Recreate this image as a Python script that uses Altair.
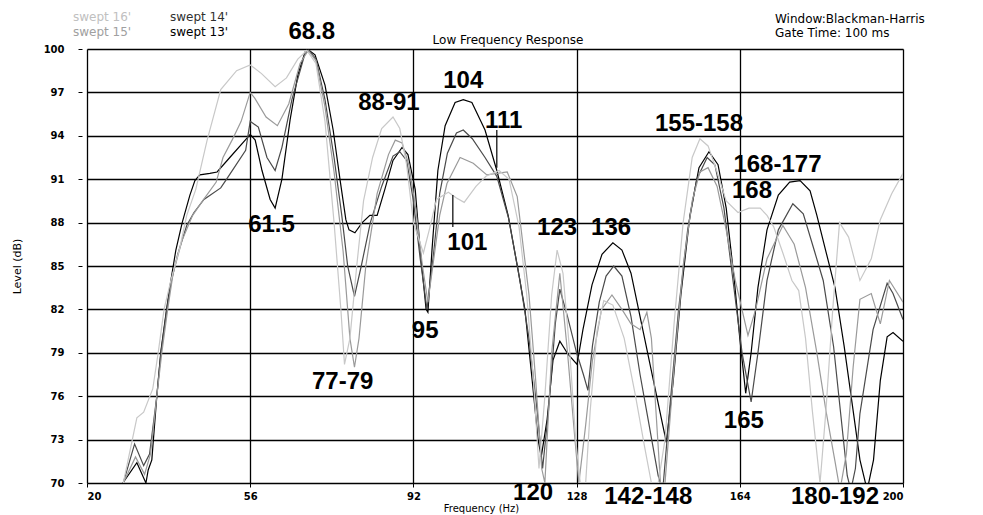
import altair as alt
import pandas as pd

# ---- data (frequency in Hz, level in dB) ----
f13 = [27.9,31.0,33.0,33.5,34.3,35.4,36.3,37.6,38.5,39.6,41.0,42.7,43.8,44.9,47.1,48.7,51.5,54.9,56.0,57.1,58.6,60.4,61.5,63.0,64.8,66.5,68.1,69.0,70.3,72.5,74.3,75.8,77.1,77.8,79.1,80.7,82.4,84.0,85.7,87.5,89.5,90.8,92.4,93.5,94.8,95.2,96.1,97.4,99.0,101.2,103.0,104.9,107.8,110.4,112.9,115.1,116.6,118.2,119.5,120.2,121.5,122.8,124.3,126.1,128.1,129.4,131.4,133.6,136.0,138.0,140.0,142.0,144.0,146.0,147.8,149.3,151.0,153.0,155.0,157.2,159.2,161.0,162.8,164.0,165.3,166.5,168.0,170.0,172.5,175.0,177.3,179.5,181.0,183.0,185.0,187.0,189.0,190.5,192.1,193.5,195.0,196.5,197.8,200.0]
l13 = [70.0,71.4,70.0,70.9,71.6,76.0,79.1,82.1,84.0,86.1,88.0,89.9,90.9,91.3,91.4,91.5,92.5,93.7,94.1,93.7,91.6,89.6,89.0,91.0,95.1,98.2,99.8,99.9,99.6,97.5,94.4,91.0,88.2,87.5,87.3,88.0,88.5,88.5,90.3,92.3,93.2,92.7,90.3,86.1,82.0,81.8,86.1,91.6,94.7,96.3,96.5,96.3,94.4,91.6,88.5,84.7,82.0,77.1,73.0,71.8,74.4,78.5,79.8,78.9,78.2,80.6,83.7,85.8,86.6,86.1,84.5,81.5,78.5,75.5,72.8,77.0,83.0,88.5,91.8,92.9,92.0,89.0,84.0,80.0,76.2,79.0,83.5,87.5,89.9,90.8,90.9,90.2,88.5,86.0,83.5,79.5,75.0,71.6,69.5,71.6,77.1,80.1,80.4,79.8]

f14 = [28.0,30.5,32.5,33.8,35.4,36.3,37.6,38.5,40.0,42.0,43.6,45.8,49.5,50.8,55.0,56.0,57.8,59.7,61.5,63.0,65.2,68.1,69.0,70.5,72.5,74.5,76.2,77.5,79.0,80.5,82.5,85.0,87.5,89.0,90.5,92.0,93.5,95.0,96.5,97.8,99.5,101.5,103.0,105.0,107.8,110.4,113.0,115.5,117.5,119.3,120.5,121.8,123.3,124.3,126.0,128.0,129.5,130.5,131.5,133.0,134.5,136.2,138.0,140.0,142.0,144.0,146.0,147.0,148.5,150.5,152.5,154.5,156.8,158.5,160.5,162.5,164.5,166.5,168.0,170.0,172.5,175.7,178.0,180.5,182.4,184.7,187.7,188.5,189.5,190.5,193.4,196.5,197.8,200.0]
l14 = [70.0,72.7,71.2,72.0,76.0,79.0,82.0,83.8,85.8,87.8,88.7,89.6,90.4,91.0,93.0,95.0,94.6,92.5,91.6,93.2,96.5,99.7,99.9,99.3,96.5,92.5,88.5,85.0,82.9,85.0,88.0,90.5,92.6,92.9,92.3,89.5,85.5,82.0,86.0,90.0,92.8,94.2,94.4,93.8,92.5,91.2,88.3,84.0,80.0,75.0,71.0,75.0,81.0,83.4,81.5,79.0,77.5,76.4,79.5,82.5,84.3,85.0,84.3,81.5,77.5,74.0,70.5,69.5,75.0,82.0,87.5,91.0,92.5,92.0,89.0,84.0,79.0,75.6,79.0,84.0,87.5,89.3,88.6,86.0,84.0,79.4,70.5,69.5,71.0,74.8,80.6,83.8,83.1,81.3]

f15 = [28.0,30.7,32.7,34.0,35.4,36.5,37.8,39.0,41.0,43.3,45.5,48.5,50.0,52.0,54.0,56.0,57.0,59.5,62.0,64.5,67.0,68.8,70.5,72.5,74.5,76.5,78.0,79.0,80.0,81.5,84.0,86.5,88.0,89.5,91.0,92.5,94.0,95.2,96.5,97.8,99.4,102.3,105.2,108.2,110.4,112.7,114.9,117.5,119.0,120.3,121.0,122.5,124.3,126.0,127.5,128.5,130.0,131.5,133.5,135.8,138.0,140.0,142.0,143.5,144.5,145.5,146.5,147.5,149.5,151.5,153.5,155.2,157.0,159.0,161.0,163.0,165.8,167.5,170.0,173.5,176.0,178.5,181.0,183.0,185.0,186.1,187.5,189.0,190.5,193.0,195.0,197.0,200.0]
l15 = [70.0,71.8,70.6,72.0,76.0,79.0,82.0,84.5,86.8,88.5,89.5,90.8,92.5,93.7,95.0,97.0,96.6,95.3,94.7,96.2,99.0,99.9,99.2,96.0,91.5,86.0,80.0,78.0,80.0,85.0,90.0,92.7,93.7,93.5,92.0,89.0,85.0,82.5,85.5,88.5,90.7,92.5,92.1,91.3,91.4,91.5,89.8,83.0,77.0,71.0,70.0,79.0,84.5,79.0,73.5,70.0,74.0,78.5,82.0,83.0,82.0,81.0,80.6,81.8,80.0,75.0,70.0,70.0,78.0,85.0,89.5,91.5,91.8,90.5,87.5,84.0,80.2,82.0,85.5,87.8,86.5,83.5,79.0,75.0,71.5,69.5,72.0,78.0,82.7,83.1,81.0,84.0,82.5]

f16 = [28.0,31.0,32.5,34.5,35.7,37.0,38.5,40.5,42.0,44.0,46.5,49.5,53.0,56.0,58.5,61.5,64.0,66.5,68.5,70.5,72.5,74.5,76.0,76.8,78.0,79.5,81.0,83.0,85.0,87.5,89.0,90.5,92.0,94.2,95.5,97.1,99.7,101.5,103.2,105.8,108.0,110.9,113.1,115.3,117.0,118.5,119.7,121.0,122.5,123.7,125.0,126.5,127.8,128.8,130.0,131.0,132.5,134.0,136.0,138.5,141.0,143.0,144.5,146.0,147.5,149.5,151.5,153.5,155.2,157.0,159.0,161.0,163.6,166.0,168.5,170.0,171.5,173.5,175.5,177.0,178.5,180.0,181.7,183.0,184.5,186.0,188.0,190.5,193.0,195.0,197.5,200.0]
l16 = [70.0,74.5,74.9,76.5,79.0,82.0,84.0,86.3,88.5,90.3,93.7,97.2,98.5,98.9,98.3,97.4,98.0,99.3,99.9,99.0,95.0,88.0,82.0,78.2,80.0,85.0,89.5,92.5,94.5,95.3,94.5,92.0,88.0,85.9,87.5,89.6,90.1,89.7,89.4,90.5,91.2,91.6,91.0,87.7,83.0,77.0,71.0,76.0,83.0,86.1,84.5,79.0,73.0,70.0,70.0,75.0,80.5,82.6,82.3,80.0,76.0,72.5,70.0,70.0,73.0,81.0,88.0,92.5,93.8,93.3,91.5,89.5,88.7,89.0,89.0,88.5,87.7,85.9,84.0,83.3,80.0,75.0,70.0,75.0,82.0,88.0,87.0,84.0,85.5,88.2,90.0,91.4]

series = [("swept 13'", f13, l13), ("swept 14'", f14, l14),
          ("swept 15'", f15, l15), ("swept 16'", f16, l16)]
series_names = ["swept 16'", "swept 15'", "swept 14'", "swept 13'"]
series_colors = ["#c8c8c8", "#9a9a9a", "#4a4a4a", "#000000"]

# annotations
ann_text = ["68.8", "61.5", "77-79", "88-91", "104", "111", "101", "95", "123", "136",
            "120", "142-148", "155-158", "168-177", "168", "165", "180-192"]
ann_f = [69.6, 60.7, 76.4, 86.6, 103.0, 111.9, 103.9, 94.6, 123.7, 135.6,
         118.4, 143.8, 155.0, 172.3, 166.7, 164.9, 185.0]
ann_l = [101.2, 87.8, 77.0, 96.3, 97.8, 95.0, 86.6, 80.5, 87.6, 87.6,
         69.3, 69.0, 94.85, 92.0, 90.2, 74.3, 69.0]

# pointer rules for 101 and 111
ptr_f = [100.7, 110.4]
ptr_l1 = [89.9, 94.4]
ptr_l2 = [87.7, 91.8]

x_ticks = [20, 56, 92, 128, 164, 200]
y_ticks = [70, 73, 76, 79, 82, 85, 88, 91, 94, 97, 100]

rows = []
for name, fs, ls in series:
    for f, l in zip(fs, ls):
        rows.append({"series": name, "f": f, "level": l})
df = pd.DataFrame(rows)
ann = pd.DataFrame({"t": ann_text, "f": ann_f, "level": ann_l})
ptr = pd.DataFrame({"f": ptr_f, "l1": ptr_l1, "l2": ptr_l2})

FONT = "DejaVu Sans"
xscale = alt.Scale(domain=[20, 200], nice=False, zero=False)
yscale = alt.Scale(domain=[70, 100], nice=False, zero=False)

lines = alt.Chart(df).mark_line(strokeWidth=1.2, clip=True).encode(
    x=alt.X("f:Q", scale=xscale,
            axis=alt.Axis(values=x_ticks, title="Frequency (Hz)", grid=True,
                          gridColor="#000000", gridWidth=1.3, gridOpacity=1,
                          domain=False, tickColor="#000", tickSize=4,
                          labelFont=FONT, labelFontSize=10, labelColor="#000",
                          labelFontWeight="bold", labelPadding=4,
                          titleFont=FONT, titleFontSize=10, titleColor="#000",
                          titleFontWeight="normal", titleX=394, titleY=25,
                          titleBaseline="middle")),
    y=alt.Y("level:Q", scale=yscale,
            axis=alt.Axis(values=y_ticks, title="Level (dB)", grid=True,
                          gridColor="#000000", gridWidth=1.3, gridOpacity=1,
                          domain=False, tickColor="#000", tickSize=4, offset=5,
                          labelFont=FONT, labelFontSize=10, labelColor="#000",
                          labelFontWeight="bold", labelPadding=14,
                          titleFont=FONT, titleFontSize=11, titleColor="#000",
                          titleFontWeight="normal", titlePadding=21)),
    color=alt.Color("series:N", scale=alt.Scale(domain=series_names, range=series_colors),
                    legend=None),
    detail="series:N",
    order=alt.Order("f:Q"),
)

texts = alt.Chart(ann).mark_text(font="Liberation Sans", fontSize=24, fontWeight="bold",
                                 color="#000", align="center", baseline="middle").encode(
    x=alt.X("f:Q", scale=xscale), y=alt.Y("level:Q", scale=yscale), text="t:N")

ptrs = alt.Chart(ptr).mark_rule(color="#000", strokeWidth=1.2).encode(
    x=alt.X("f:Q", scale=xscale), y=alt.Y("l1:Q", scale=yscale), y2="l2:Q")

# header texts (legend, title, window info)
hdr = pd.DataFrame({
    "t": ["swept 16'", "swept 14'", "swept 15'", "swept 13'",
          "Low Frequency Response", "Window:Blackman-Harris", "Gate Time: 100 ms"],
    "px": [-14, 83, -14, 83, 421, 688, 688],
    "py": [-32, -32, -17, -17, -9, -30, -16],
    "c": ["#c0c0c0", "#303030", "#a0a0a0", "#000000", "#000", "#000", "#000"],
    "a": ["left", "left", "left", "left", "center", "left", "left"],
})
hdr_layers = []
for i in range(len(hdr)):
    hdr_layers.append(
        alt.Chart(hdr.iloc[[i]]).mark_text(font=FONT, fontSize=12, align=hdr["a"][i],
                                           baseline="middle", color=hdr["c"][i]).encode(
            x=alt.value(float(hdr["px"][i])), y=alt.value(float(hdr["py"][i])), text="t:N"))

chart = alt.layer(lines, ptrs, texts, *hdr_layers).properties(
    width=816, height=434,
    autosize=alt.AutoSizeParams(type="none"),
    padding={"left": 87, "top": 49, "right": 80, "bottom": 32},
).configure_view(stroke="#000", strokeWidth=1.5).configure(background="white")

chart.save("out.html", embed_options={"renderer": "svg", "actions": False})
